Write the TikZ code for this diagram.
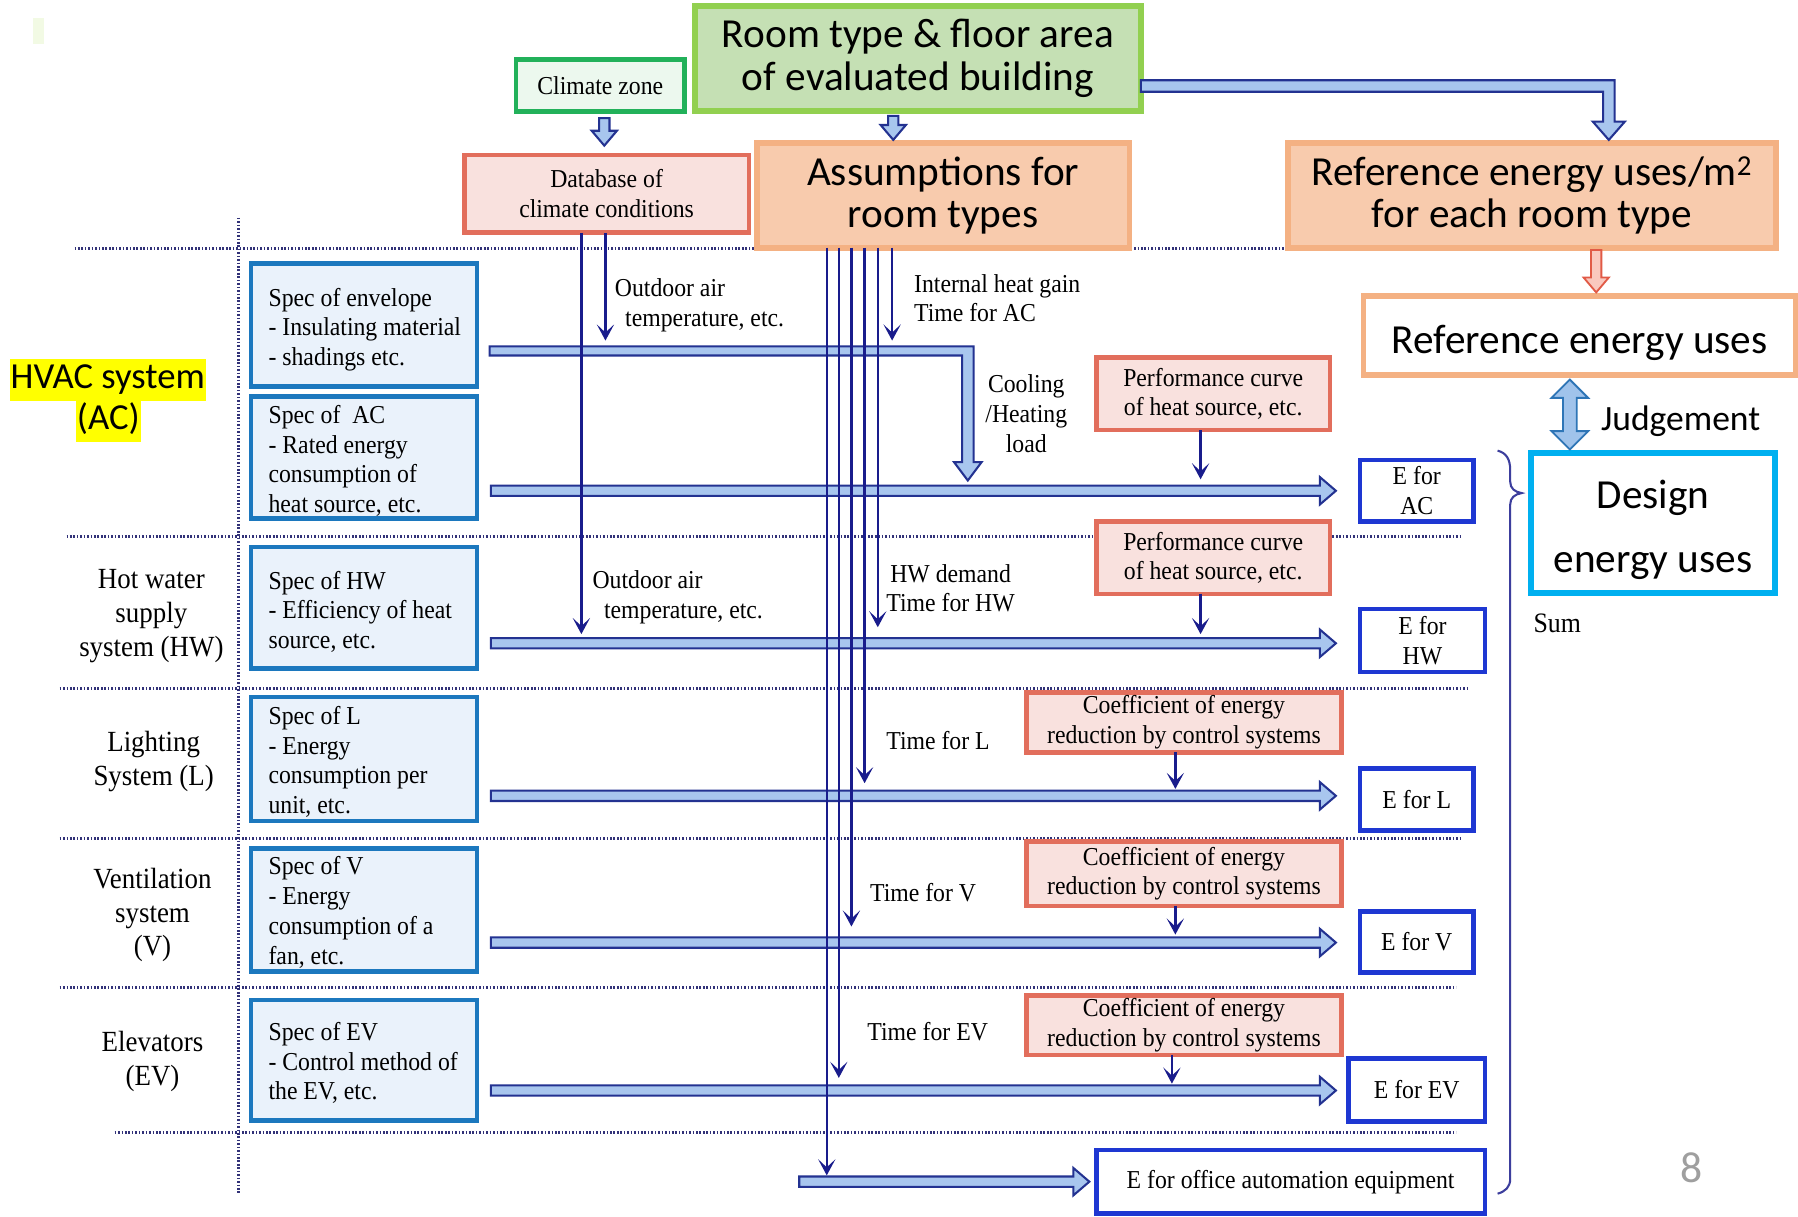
\documentclass[tikz,border=0pt]{standalone}
\usepackage{fontspec}
\setmainfont{Liberation Serif}
\newfontfamily\tnr[FakeStretch=0.92]{Liberation Serif}
\newfontfamily\cali{Carlito}
\usetikzlibrary{arrows.meta,calc}
\definecolor{navy}{RGB}{25,28,140}
\definecolor{dotc}{RGB}{50,50,120}
\definecolor{arrfill}{RGB}{168,198,238}
\definecolor{arrline}{RGB}{35,50,145}
\definecolor{specline}{RGB}{28,120,190}
\definecolor{specfill}{RGB}{234,242,251}
\definecolor{eline}{RGB}{30,55,210}
\definecolor{pinkfill}{RGB}{249,225,222}
\definecolor{pinkline}{RGB}{226,110,92}
\definecolor{peachfill}{RGB}{248,203,173}
\definecolor{peachline}{RGB}{244,177,131}
\definecolor{greenfill}{RGB}{197,224,180}
\definecolor{greenline}{RGB}{146,208,80}
\definecolor{czline}{RGB}{34,177,90}
\definecolor{czfill}{RGB}{236,248,238}
\definecolor{cyanline}{RGB}{0,176,240}
\definecolor{redarrfill}{RGB}{250,200,190}
\definecolor{redarrline}{RGB}{225,90,70}
\definecolor{jfill}{RGB}{160,195,235}
\definecolor{jline}{RGB}{46,117,182}
\definecolor{faint}{RGB}{242,250,228}
\definecolor{hl}{RGB}{255,255,0}
\tikzset{
  box/.style={draw, line width=4pt, inner sep=0pt, outer sep=0pt, align=center},
  tnrtxt/.style={font=\tnr\fontsize{22.5}{26}\selectfont},
  caltxt/.style={font=\cali\fontsize{36}{37}\selectfont},
  spec/.style={box, draw=specline, fill=specfill, minimum width=197pt},
  spectext/.style={tnrtxt, align=left, anchor=west, inner sep=0pt},
  ebox/.style={box, draw=eline, fill=white, tnrtxt},
  pinkbox/.style={box, draw=pinkline, fill=pinkfill, tnrtxt},
  peachbox/.style={box, line width=5pt, draw=peachline, fill=peachfill, caltxt},
  lbl/.style={tnrtxt, inner sep=0pt},
  sidelbl/.style={font=\tnr\fontsize{25.5}{29.5}\selectfont, align=center, inner sep=0pt},
  dotl/.style={draw=dotc, line width=2.6pt, dash pattern=on 1.4pt off 1.6pt},
  tarr/.style={draw=navy, line width=2pt, -{Stealth[length=14pt,width=15pt,inset=7pt]}},
  blk/.style={draw=arrline, fill=arrfill, line width=1.8pt, line join=miter},
  harr/.style={blk, to path={let \p1=(\tikztostart), \p2=(\tikztotarget) in
    (\x1,\y1+4.5pt) -- (\x2-14pt,\y1+4.5pt) -- (\x2-14pt,\y1+12pt) -- (\x2,\y1)
    -- (\x2-14pt,\y1-12pt) -- (\x2-14pt,\y1-4.5pt) -- (\x1,\y1-4.5pt) -- cycle}},
  varr/.style={to path={let \p1=(\tikztostart), \p2=(\tikztotarget) in
    (\x1-4.5pt,\y1) -- (\x1-4.5pt,\y2+13pt) -- (\x1-11pt,\y2+13pt) -- (\x1,\y2)
    -- (\x1+11pt,\y2+13pt) -- (\x1+4.5pt,\y2+13pt) -- (\x1+4.5pt,\y1) -- cycle}},
}
\begin{document}
\begin{tikzpicture}[x=1pt,y=-1pt]
\useasboundingbox (0,0) rectangle (1568,1061);
\fill[white] (0,0) rectangle (1568,1061);
\fill[faint] (29,16) rectangle (38,38);

% dotted grid
\draw[dotl] (65,217) -- (1495,217);
\draw[dotl] (58,468) -- (1275,468);
\draw[dotl] (52,600) -- (1280,600);
\draw[dotl] (52,731) -- (1275,731);
\draw[dotl] (52,861) -- (1270,861);
\draw[dotl] (100,988) -- (1270,988);
\draw[dotl] (208,190) -- (208,1040);

% top boxes
\node[box, draw=czline, fill=czfill, tnrtxt, minimum width=147pt, minimum height=45pt] (cz) at (523.5,74.5) {Climate zone};
\node[box, line width=5pt, draw=greenline, fill=greenfill, caltxt, minimum width=389pt, minimum height=92pt] (room) at (800.5,51) {Room type \& floor area\\of evaluated building};
\node[pinkbox, minimum width=248pt, minimum height=68pt] (db) at (529,169) {Database of\\climate conditions};
\node[peachbox, minimum width=325pt, minimum height=91pt] (asm) at (822.5,170.5) {Assumptions for\\room types};
\node[peachbox, minimum width=426pt, minimum height=91pt] (refm) at (1336,170.5) {Reference energy uses/m\textsuperscript{2}\\for each room type};
\node[box, line width=5pt, draw=peachline, fill=white, caltxt, text height=39pt, text depth=8pt, minimum width=377pt, minimum height=69pt] (refe) at (1377.5,292.5) {Reference energy uses};
\node[box, line width=5pt, draw=cyanline, fill=white, minimum width=213pt, minimum height=122pt] (des) at (1441.5,456) {};
\node[font=\cali\fontsize{36}{56}\selectfont, align=center, inner sep=0pt] (desT) at (1441.5,462) {Design\\energy uses};

% top block arrows
\draw[blk] (995,70) -- (1408,70) -- (1408,106) -- (1417,106) -- (1403,122) -- (1389,106) -- (1398,106) -- (1398,80) -- (995,80) -- cycle;
\draw[blk, varr] ($(cz.south)+(3.5,6)$) to ($(db.north)+(-2,-8)$);
\draw[blk, varr] ($(room.south)+(-21.5,4)$) to ($(asm.north)+(-21.5,-3)$);
\draw[draw=redarrline, fill=redarrfill, line width=1.6pt, varr] ($(refm.south)+(56,2)$) to ($(refe.north)+(14.5,-3)$);
\draw[draw=jline, fill=jfill, line width=1.6pt] (1369,331) -- (1385,347) -- (1375,347) -- (1375,376) -- (1385,376) -- (1369,392) -- (1353,376) -- (1363,376) -- (1363,347) -- (1353,347) -- cycle;
\node[font=\cali\fontsize{31}{33}\selectfont, anchor=west, inner sep=0pt] (judg) at (1396,367) {Judgement};

% left labels
\node[font=\cali\fontsize{32}{34}\selectfont, fill=hl, inner xsep=1pt, inner ysep=0pt, text height=25pt, text depth=11pt] (hvac1) at (94,331.5) {HVAC system};
\node[font=\cali\fontsize{32}{34}\selectfont, fill=hl, inner xsep=1pt, inner ysep=0pt, text height=25pt, text depth=11pt] (hvac2) at (94.5,367.5) {(AC)};
\node[sidelbl] (lhw) at (132,537) {Hot water\\supply\\system (HW)};
\node[sidelbl] (ll) at (134,664) {Lighting\\System (L)};
\node[sidelbl] (lv) at (133,798) {Ventilation\\system\\(V)};
\node[sidelbl] (lev) at (133,926) {Elevators\\(EV)};

% spec boxes
\node[spec, minimum height=107pt] (sEnv) at (317.5,283.5) {};
\node[spec, minimum height=106pt] (sAC) at (317.5,399) {};
\node[spec, minimum height=106pt] (sHW) at (317.5,530) {};
\node[spec, minimum height=108pt] (sL) at (317.5,662) {};
\node[spec, minimum height=107pt] (sV) at (317.5,793.5) {};
\node[spec, minimum height=105pt] (sEV) at (317.5,924.5) {};
\node[spectext] (tEnv) at (234,287.5) {Spec of envelope\\- Insulating material\\- shadings etc.};
\node[spectext] (tAC) at (234,402) {Spec of\ \ AC\\- Rated energy\\consumption of\\heat source, etc.};
\node[spectext] (tHW) at (234,533.5) {Spec of HW\\- Efficiency of heat\\source, etc.};
\node[spectext] (tL) at (234,664.5) {Spec of L\\- Energy\\consumption per\\unit, etc.};
\node[spectext] (tV) at (234,795.5) {Spec of V\\- Energy\\consumption of a\\fan, etc.};
\node[spectext] (tEV) at (234,927) {Spec of EV\\- Control method of\\the EV, etc.};

% E boxes
\node[ebox, minimum width=99pt, minimum height=54pt] (eAC) at (1235.5,428) {E for\\AC};
\node[ebox, minimum width=109pt, minimum height=55pt] (eHW) at (1240.5,558.5) {E for\\HW};
\node[ebox, minimum width=99pt, minimum height=54pt] (eL) at (1235.5,697) {E for L};
\node[ebox, minimum width=99pt, minimum height=53pt] (eV) at (1235.5,821.5) {E for V};
\node[ebox, minimum width=119pt, minimum height=55pt] (eEV) at (1235.5,950.5) {E for EV};
\node[ebox, minimum width=339pt, minimum height=55pt] (eOA) at (1125.5,1030.5) {E for office automation equipment};

% pink boxes
\node[pinkbox, minimum width=204pt, minimum height=63pt] (pc1) at (1058,343.5) {Performance curve\\of heat source, etc.};
\node[pinkbox, minimum width=204pt, minimum height=63pt] (pc2) at (1058,486.5) {Performance curve\\of heat source, etc.};
\node[pinkbox, minimum width=275pt, minimum height=52pt] (co1) at (1032.5,630) {Coefficient of energy\\reduction by control systems};
\node[pinkbox, minimum width=275pt, minimum height=56pt] (co2) at (1032.5,762) {Coefficient of energy\\reduction by control systems};
\node[pinkbox, minimum width=275pt, minimum height=52pt] (co3) at (1032.5,894) {Coefficient of energy\\reduction by control systems};

% block arrows
\draw[blk] (427,302) -- (849,302) -- (849,403) -- (856,403) -- (844,419) -- (832,403) -- (839,403) -- (839,310) -- (427,310) -- cycle;
\draw[harr] ($(sAC.east |- eAC.west)+(12,0)$) to ($(eAC.west)+(-21,0)$);
\draw[harr] ($(sHW.east |- eHW.west)+(12,2.5)$) to ($(eHW.west)+(-21,2.5)$);
\draw[harr] ($(sL.east |- eL.west)+(12,-3)$) to ($(eL.west)+(-21,-3)$);
\draw[harr] ($(sV.east |- eV.west)+(12,0.5)$) to ($(eV.west)+(-21,0.5)$);
\draw[harr] ($(sEV.east |- eEV.west)+(12,0.5)$) to ($(eEV.west)+(-11,0.5)$);
\draw[harr] ($(eOA.west)+(-259,0)$) to ($(eOA.west)+(-6,0)$);

% thin arrows
\draw[tarr] ($(db.south)+(-22,0)$) -- +(0,350);
\draw[tarr] ($(db.south)+(-1,0)$) -- +(0,94);
\draw[tarr] ($(asm.south)+(-101.5,0)$) -- +(0,809);
\draw[tarr] ($(asm.south)+(-91,0)$) -- +(0,724);
\draw[tarr] ($(asm.south)+(-80,0)$) -- +(0,592);
\draw[tarr] ($(asm.south)+(-68.5,0)$) -- +(0,467);
\draw[tarr] ($(asm.south)+(-57,0)$) -- +(0,331);
\draw[tarr] ($(asm.south)+(-44.5,0)$) -- +(0,81);
\draw[tarr] ($(pc1.south)+(-11,0)$) -- +(0,43);
\draw[tarr] ($(pc2.south)+(-11,0)$) -- +(0,35);
\draw[tarr] ($(co1.south)+(-7.5,0)$) -- +(0,32);
\draw[tarr] ($(co2.south)+(-7.5,0)$) -- +(0,25);
\draw[tarr] ($(co3.south)+(-10.5,0)$) -- +(0,25);

% labels
\node[lbl, align=left] (oa1) at (610,266) {Outdoor air\\\hspace*{9pt}temperature, etc.};
\node[lbl, align=left] (oa2) at (591,521) {Outdoor air\\\hspace*{10pt}temperature, etc.};
\node[lbl, align=left, anchor=west] (ihg) at (797,260) {Internal heat gain\\Time for AC};
\node[lbl, align=center] (chl) at (895,361) {Cooling\\/Heating\\load};
\node[lbl, align=center] (hwd) at (829,513) {HW demand\\Time for HW};
\node[lbl] (tfl) at (818,646) {Time for L};
\node[lbl] (tfv) at (805,778) {Time for V};
\node[lbl] (tfev) at (809,900) {Time for EV};
\node[font=\tnr\fontsize{24.5}{26}\selectfont, inner sep=0pt] (sum) at (1358,544) {Sum};

% brace
\draw[draw=navy!85, line width=1.8pt] (1306,393) .. controls (1314,395) and (1317,401) .. (1317,410) -- (1317,420) .. controls (1317,426) and (1321,429) .. (1327,430) .. controls (1321,431) and (1317,434) .. (1317,440) -- (1317,1028) .. controls (1317,1035) and (1313,1039) .. (1306,1041);

\node[text=gray!75, font=\cali\fontsize{38}{40}\selectfont, inner sep=0pt] (pg) at (1475,1018) {8};
\end{tikzpicture}
\end{document}
